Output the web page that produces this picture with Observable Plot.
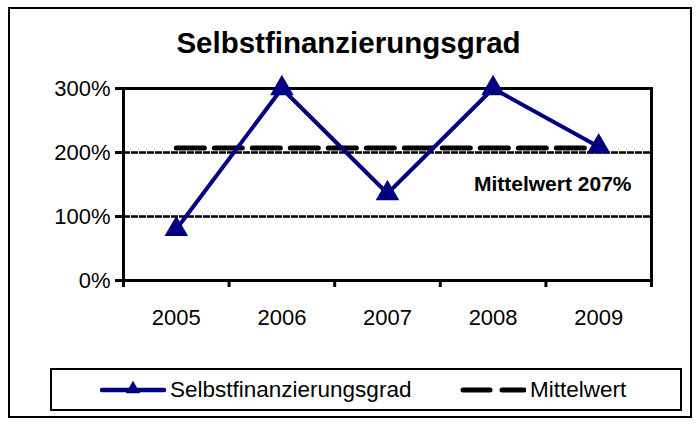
<!DOCTYPE html>
<html><head><meta charset="utf-8">
<script src="https://cdn.jsdelivr.net/npm/d3@7"></script>
<script src="https://cdn.jsdelivr.net/npm/@observablehq/plot@0.6"></script>
<style>
body{margin:0;background:#fff;font-family:"Liberation Sans",Arial,sans-serif;color:#000;}
#wrap{position:relative;width:697px;height:424px;overflow:hidden;background:#fff;}
#border{position:absolute;left:8px;top:7px;width:684px;height:411px;box-sizing:border-box;border:2px solid #000;}
#title{position:absolute;left:0;top:26px;width:697px;text-align:center;font-weight:bold;font-size:29.5px;line-height:34px;}
#chart{position:absolute;left:0;top:70px;}
#legend{position:absolute;left:50px;top:368px;width:632px;height:43px;box-sizing:border-box;border:2px solid #000;}
.item{position:absolute;top:0;height:39px;display:flex;align-items:center;font-size:22.5px;}
.item svg{margin-right:4px;}
</style></head>
<body>
<div id="wrap">
  <div id="border"></div>
  <div id="title"></div>
  <div id="chart"></div>
  <div id="legend"></div>
</div>
<script>
const chartTitle = "Selbstfinanzierungsgrad";
const years = ["2005", "2006", "2007", "2008", "2009"];
const ratio = [80, 300, 136, 300, 209];
const meanValue = 207;
const meanLabel = "Mittelwert 207%";
const yTicks = [0, 100, 200, 300];
const seriesNames = ["Selbstfinanzierungsgrad", "Mittelwert"];

document.getElementById("title").textContent = chartTitle;

const pts = years.map((y, i) => ({i: i + 0.5, year: y, v: ratio[i]}));
const navy = "#000080";

const plot = Plot.plot({
  width: 697, height: 280,
  marginLeft: 123, marginRight: 46, marginTop: 18, marginBottom: 70,
  style: {fontFamily: "'Liberation Sans', Arial, sans-serif", fontSize: "22px", color: "#000", background: "transparent", overflow: "visible"},
  x: {domain: [0, years.length], axis: null},
  y: {domain: [0, d3.max(yTicks)], axis: null},
  marks: [
    Plot.ruleY(yTicks.filter(t => t > 0 && t < d3.max(yTicks)), {stroke: "#000", strokeWidth: 2.5, strokeDasharray: "7,1"}),
    Plot.frame({stroke: "#000", strokeWidth: 3}),
    Plot.axisY({ticks: yTicks, tickFormat: d => d + "%", tickSize: 8, tickPadding: 5, strokeWidth: 3, label: null, fontSize: 22}),
    Plot.axisX({ticks: d3.range(years.length + 1), tickSize: 7, tickFormat: () => "", strokeWidth: 3, label: null}),
    Plot.axisX({ticks: pts.map(d => d.i), tickSize: 0, tickPadding: 29, tickFormat: d => years[Math.floor(d)], label: null, fontSize: 22}),
    Plot.line(pts, {x: "i", y: () => meanValue, stroke: "#000", strokeWidth: 5, strokeDasharray: "28,10"}),
    Plot.line(pts, {x: "i", y: "v", stroke: navy, strokeWidth: 4}),
    Plot.dot(pts, {x: "i", y: "v", symbol: "triangle", r: 7.8, fill: navy, stroke: navy}),
    Plot.text([meanLabel], {x: () => years.length, y: () => meanValue, text: d => d, textAnchor: "end", dx: -20, dy: 36, fontWeight: "bold", fontSize: 21})
  ]
});
document.getElementById("chart").appendChild(plot);

// Legend
const legend = d3.select("#legend");
const lefts = [48, 408];
seriesNames.forEach((name, k) => {
  const item = legend.append("div").attr("class", "item").style("left", lefts[k] + "px");
  const svg = item.append("svg").attr("width", 66).attr("height", 20);
  if (k === 0) {
    svg.append("line").attr("x1", 2).attr("x2", 64).attr("y1", 10).attr("y2", 10)
      .attr("stroke", navy).attr("stroke-width", 4.5).attr("stroke-linecap", "round");
    svg.append("path").attr("d", d3.symbol(d3.symbolTriangle, 90)()).attr("transform", "translate(33,9)").attr("fill", navy);
  } else {
    svg.append("line").attr("x1", 3).attr("x2", 64).attr("y1", 10).attr("y2", 10)
      .attr("stroke", "#000").attr("stroke-width", 5).attr("stroke-linecap", "round").attr("stroke-dasharray", "27,12");
  }
  item.append("span").text(name);
});
</script>
</body></html>
